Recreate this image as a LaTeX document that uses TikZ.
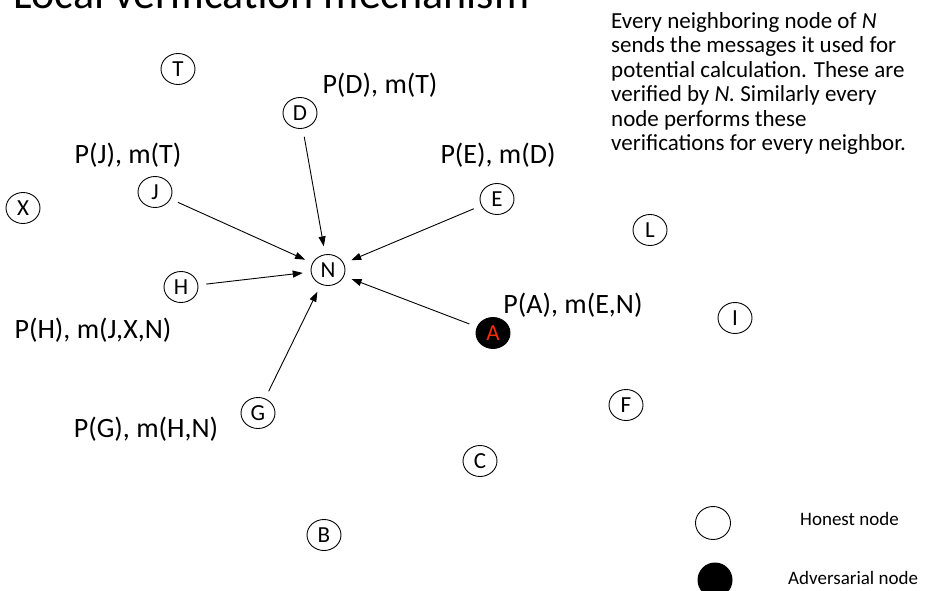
\documentclass[tikz,border=0pt]{standalone}
\usepackage{fontspec}
\setmainfont{Carlito}
\usetikzlibrary{arrows.meta,shapes.geometric}
\definecolor{advred}{RGB}{245,45,10}
\begin{document}
\begin{tikzpicture}[x=1pt,y=-1pt,
  peer/.style={draw, ellipse, minimum width=34pt, minimum height=31pt,
    inner sep=0pt, line width=0.9pt, font=\fontsize{23}{27}\selectfont},
  badpeer/.style={peer, fill=black, text=advred},
  lbl/.style={font=\fontsize{28}{34}\selectfont, inner sep=0pt},
  msg/.style={-{Triangle[length=10pt,width=7pt]}, line width=0.9pt,
    shorten <=8pt, shorten >=8pt},
  keytext/.style={font=\fontsize{19}{23}\selectfont, anchor=west, inner sep=0pt}]
\useasboundingbox (0,0) rectangle (939,591);

% title, running off the top edge
\node[anchor=base west, inner sep=0pt, font=\fontsize{44}{52}\selectfont]
  (title) at (13,9) {Local verification mechanism};

% explanation
\node[anchor=north west, inner sep=0pt, align=left,
  font=\fontsize{23}{24.5}\selectfont] (note) at (611,12)
  {Every neighboring node of \textit{N}\\
   sends the messages it used for\\
   potential calculation. These are\\
   verified by \textit{N.} Similarly every\\
   node performs these\\
   verifications for every neighbor.};

% nodes
\node[peer] (T) at (178,69) {T};
\node[peer] (D) at (300,113) {D};
\node[peer] (J) at (155,192) {J};
\node[peer] (E) at (497,199) {E};
\node[peer] (X) at (23,208) {X};
\node[peer] (L) at (650,230) {L};
\node[peer] (N) at (328,270) {N};
\node[peer] (H) at (181,287) {H};
\node[peer] (I) at (735,318) {I};
\node[badpeer] (A) at (493,333) {A};
\node[peer] (F) at (626,405) {F};
\node[peer] (G) at (258,413) {G};
\node[peer] (C) at (480,461) {C};
\node[peer] (B) at (324,535) {B};

% message labels
\node[lbl] (lD) at (380,85) {P(D), m(T)};
\node[lbl] (lJ) at (128,155) {P(J), m(T)};
\node[lbl] (lE) at (498,155) {P(E), m(D)};
\node[lbl] (lH) at (93,330) {P(H), m(J,X,N)};
\node[lbl] (lA) at (573,305) {P(A), m(E,N)};
\node[lbl] (lG) at (146,429) {P(G), m(H,N)};

% messages sent to N
\draw[msg] (D) -- (N);
\draw[msg] (J) -- (N);
\draw[msg] (H) -- (N);
\draw[msg] (G) -- (N);
\draw[msg] (E) -- (N);
\draw[msg] (A) -- (N);

% key
\node[draw, ellipse, minimum width=35pt, minimum height=33pt, line width=0.9pt]
  (kh) at (713,523) {};
\node[fill=black, circle, minimum size=35pt] (ka) at (715,580) {};
\node[keytext] (khl) at (800,519) {Honest node};
\node[keytext] (kal) at (788,578) {Adversarial node};
\end{tikzpicture}
\end{document}
